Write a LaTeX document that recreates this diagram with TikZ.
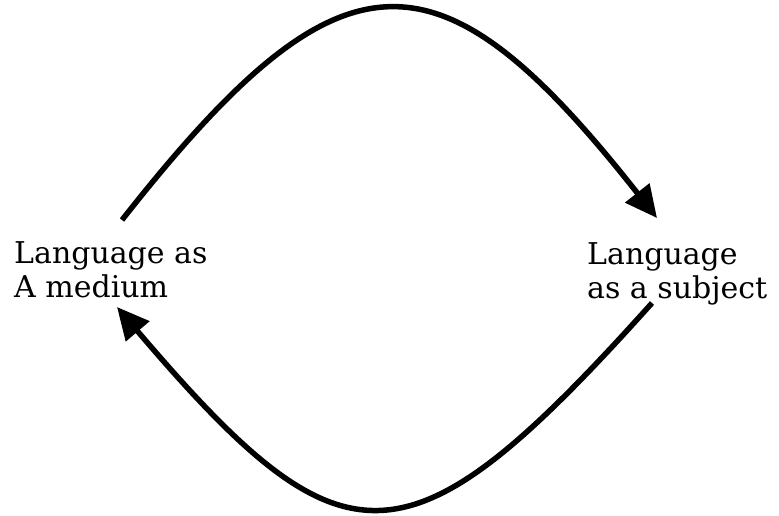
\documentclass[tikz,border=0pt]{standalone}
\usepackage{fontspec}
\setmainfont{DejaVu Serif}
\usetikzlibrary{arrows.meta}
\tikzset{
  label/.style={align=left, inner sep=0pt, anchor=north west, font=\fontsize{30}{34}\selectfont},
  arc/.style={line width=5.5pt, -{Triangle[length=32pt,width=30pt]}}
}
\begin{document}
\begin{tikzpicture}[x=1pt,y=1pt]
\useasboundingbox (0,0) rectangle (779,515);
\node[label] (medium) at (14,274) {Language as\\A medium};
\node[label] (subject) at (587,273) {Language\\as a subject};
\coordinate (ts) at (122,295);
\coordinate (te) at (657,297);
\coordinate (bs) at (652,212);
\coordinate (be) at (117,208);
\draw[arc] (ts) .. controls (342,575) and (438,575) .. (te);
\draw[arc] (bs) .. controls (408,-60) and (345,-60) .. (be);
\end{tikzpicture}
\end{document}
